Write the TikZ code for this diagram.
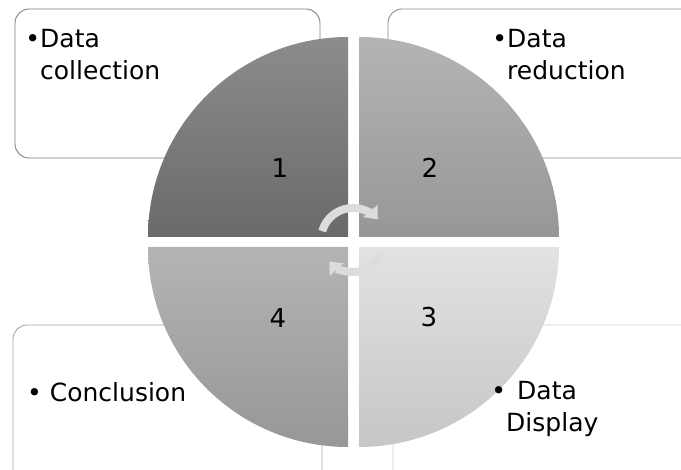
\documentclass[tikz,border=0pt]{standalone}
\usepackage{fontspec}
\setmainfont{DejaVu Sans}
\usetikzlibrary{arrows.meta,calc}
\definecolor{qonetop}{HTML}{8C8C8C}
\definecolor{qonebot}{HTML}{6A6A6A}
\definecolor{qtwotop}{HTML}{B4B4B4}
\definecolor{qtwobot}{HTML}{979797}
\definecolor{qthreetop}{HTML}{E2E2E2}
\definecolor{qthreebot}{HTML}{C6C6C6}
\definecolor{arrowgray}{HTML}{DCDCDC}
\tikzset{
  infobox/.style={rounded corners=14pt, line width=0.9pt, fill=white},
  bodytext/.style={inner sep=0pt, align=left, font=\fontsize{25}{32}\selectfont},
  numtext/.style={inner sep=0pt, font=\fontsize{26}{30}\selectfont},
  cyclearrow/.style={draw=arrowgray, line width=8pt, -{Triangle[width=18pt,length=11pt]}}
}
\begin{document}
\begin{tikzpicture}[x=1pt,y=1pt]
\useasboundingbox (0,0) rectangle (681,470);
\clip (0,0) rectangle (681,470);
% text boxes behind the disc
\draw[infobox, draw=black!50] (15,461) rectangle (320,312);
\draw[infobox, draw=black!45] (388,461) rectangle (720,312);
\draw[infobox, draw=black!35] (13,145) rectangle (322,-30);
\draw[infobox, draw=black!18] (393,145) rectangle (720,-30);
% quadrants
\shade[top color=qonetop, bottom color=qonebot] (348,233) -- (148,233) arc (180:90:200pt) -- cycle;
\shade[top color=qtwotop, bottom color=qtwobot] (359,233) -- (359,433) arc (90:0:200pt) -- cycle;
\shade[top color=qthreetop, bottom color=qthreebot] (359,223) -- (559,223) arc (0:-90:200pt) -- cycle;
\shade[top color=qtwotop, bottom color=qtwobot] (348,223) -- (348,23) arc (270:180:200pt) -- cycle;
% numbers
\node[numtext] (n1) at (280,302) {1};
\node[numtext] (n2) at (430,302) {2};
\node[numtext] (n3) at (429,153) {3};
\node[numtext] (n4) at (278,152) {4};
% cycle arrows
\coordinate (cc) at (353,230);
\coordinate (ta) at ($(cc)+(164:32pt)$);
\coordinate (tb) at ($(cc)+(-28:32pt)$);
\draw[cyclearrow] (ta) arc (164:40:32pt);
\draw[cyclearrow] (tb) arc (-28:-138:32pt);
% texts
\node[bodytext, anchor=north west] (t1) at (40,441) {\llap{•}Data\\collection};
\node[bodytext, anchor=north west] (t2) at (507,441) {\llap{•}Data\\reduction};
\node[bodytext, anchor=base west] (t4) at (27,68) {• Conclusion};
\node[bodytext, anchor=north west] (t3) at (506,89) {\llap{•}\hspace*{11pt}Data\\Display};
\end{tikzpicture}
\end{document}
